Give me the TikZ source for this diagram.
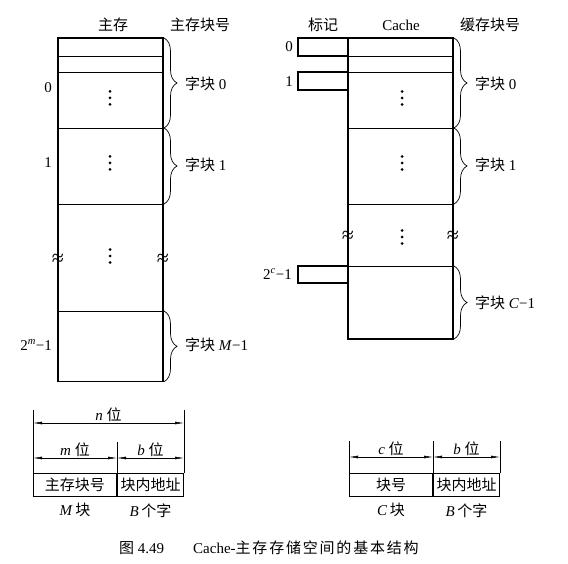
\documentclass[tikz,border=0pt]{standalone}
\usepackage{fontspec}
\setmainfont{Liberation Serif}
\newfontfamily\cjk{Noto Sans CJK SC}
\newfontfamily\cjkcap[LetterSpace=12]{Noto Sans CJK SC}
\usetikzlibrary{positioning,arrows.meta,decorations.pathreplacing,calc}

\begin{document}
\begin{tikzpicture}[
  x=1pt, y=-1pt,
  font=\fontsize{15}{17}\selectfont,
  >={Latex[length=9pt,width=2.8pt]},
  frame/.style={line width=1.1pt},
  sep/.style={line width=0.9pt},
  brc/.style={decorate, decoration={brace, amplitude=13pt, aspect=0.5}, line width=0.7pt},
  blk/.style={anchor=west, inner sep=1pt},
  hdr/.style={inner sep=1pt},
  cut/.style={inner sep=0pt, font=\fontsize{22}{22}\selectfont},
  field/.style={draw, line width=1pt, minimum height=23pt, inner sep=0pt},
  ext/.style={line width=0.6pt},
  dim/.style={<->, line width=0.5pt},
  lbl/.style={inner sep=1.5pt},
]
\useasboundingbox (0,0) rectangle (568,564);

% ---- column heads ----
\node[hdr] (memhd)   at (113,25) {\cjk 主存};
\node[hdr] (memno)   at (200,25) {\cjk 主存块号};
\node[hdr] (taghd)   at (323,25) {\cjk 标记};
\node[hdr] (cachehd) at (401,25) {Cache};
\node[hdr] (cacheno) at (490,25) {\cjk 缓存块号};

% ---- main memory (left) ----
\draw[frame] (58,38) rectangle (163,381.7);
\foreach \yy in {56,72,128,204,311} \draw[sep] (58,\yy) -- (163,\yy);
\node (mrow0) at (48,88)  {0};
\node (mrow1) at (48,163) {1};
\node[anchor=east, inner sep=1pt] (mrowM) at (53,345) {2\textsuperscript{\itshape m}−1};
\node[cut] (mcut1) at (58,260)  {≈};
\node[cut] (mcut2) at (163,260) {≈};

\draw[brc] (164,38)  -- (164,128);
\draw[brc] (164,128) -- (164,204);
\draw[brc] (164,311) -- (164,381.7);
\node[blk] (mblk0) at (184,84)  {{\cjk 字块} 0};
\node[blk] (mblk1) at (184,165) {{\cjk 字块} 1};
\node[blk] (mblkM) at (184,345) {{\cjk 字块} \textit{M}−1};

% ---- tags and cache (right) ----
\draw[frame] (298,38)  rectangle (348,56);
\draw[frame] (298,72)  rectangle (348,90);
\draw[frame] (298,266) rectangle (348,283);
\draw[frame] (348,38) rectangle (453,339);
\foreach \yy in {56,72,128,204,266} \draw[sep] (348,\yy) -- (453,\yy);
\node (trow0) at (289,47) {0};
\node (trow1) at (289,82) {1};
\node[anchor=east, inner sep=1pt] (trowC) at (293,274) {2\textsuperscript{\itshape c}−1};
\node[cut] (ccut1) at (348,237) {≈};
\node[cut] (ccut2) at (453,237) {≈};

\draw[brc] (454,38)  -- (454,128);
\draw[brc] (454,128) -- (454,204);
\draw[brc] (454,266) -- (454,339);
\node[blk] (cblk0) at (474,84)  {{\cjk 字块} 0};
\node[blk] (cblk1) at (474,165) {{\cjk 字块} 1};
\node[blk] (cblkC) at (474,303) {{\cjk 字块} \textit{C}−1};

% vertical dots inside the blocks
\foreach \x/\y in {110/98, 110/163, 110/256, 402/98, 402/163, 402/237}
  \foreach \d in {-6.5,0,6.5}
    \fill (\x,{\y+\d}) circle (1.5pt);

% ---- main memory address ----
\node[field, minimum width=83pt, anchor=north west] (mno) at (33,473) {\cjk 主存块号};
\node[field, minimum width=66pt, anchor=west] (moff) at (mno.east) {\cjk 块内地址};
\draw[ext] (mno.north west) -- ++(0,-63);
\draw[ext] (moff.north east) -- ++(0,-63);
\draw[ext] (mno.north east) -- ++(0,-31);
\draw[dim] ($(mno.north west)+(0,-50)$) -- node[lbl,above] (nbits) {\textit{n} {\cjk 位}} ($(moff.north east)+(0,-50)$);
\draw[dim] ($(mno.north west)+(0,-15)$) -- node[lbl,above] (mbits) {\textit{m} {\cjk 位}} ($(mno.north east)+(0,-15)$);
\draw[dim] ($(moff.north west)+(0,-15)$) -- node[lbl,above] (bbits) {\textit{b} {\cjk 位}} ($(moff.north east)+(0,-15)$);
\node[below=3pt of mno]  (mcount) {\textit{M}\,{\cjk 块}};
\node[below=3pt of moff] (bcount) {\textit{B}\,{\cjk 个字}};

% ---- cache address ----
\node[field, minimum width=83pt, anchor=north west] (cno) at (349,473) {\cjk 块号};
\node[field, minimum width=66pt, anchor=west] (coff) at (cno.east) {\cjk 块内地址};
\draw[ext] (cno.north west) -- ++(0,-32);
\draw[ext] (cno.north east) -- ++(0,-32);
\draw[ext] (coff.north east) -- ++(0,-32);
\draw[dim] ($(cno.north west)+(0,-16)$) -- node[lbl,above] (cbits) {\textit{c} {\cjk 位}} ($(cno.north east)+(0,-16)$);
\draw[dim] ($(coff.north west)+(0,-16)$) -- node[lbl,above] (cbbits) {\textit{b} {\cjk 位}} ($(coff.north east)+(0,-16)$);
\node[below=3pt of cno]  (ccount) {\textit{C}\,{\cjk 块}};
\node[below=3pt of coff] (cbcount) {\textit{B}\,{\cjk 个字}};

% ---- caption ----
\node[anchor=west, inner sep=0pt] (capno) at (119,548) {{\cjk 图} 4.49};
\node[anchor=west, inner sep=0pt] (captxt) at (193,548) {Cache-{\cjkcap 主存存储空间的基本结构}};
\end{tikzpicture}
\end{document}
